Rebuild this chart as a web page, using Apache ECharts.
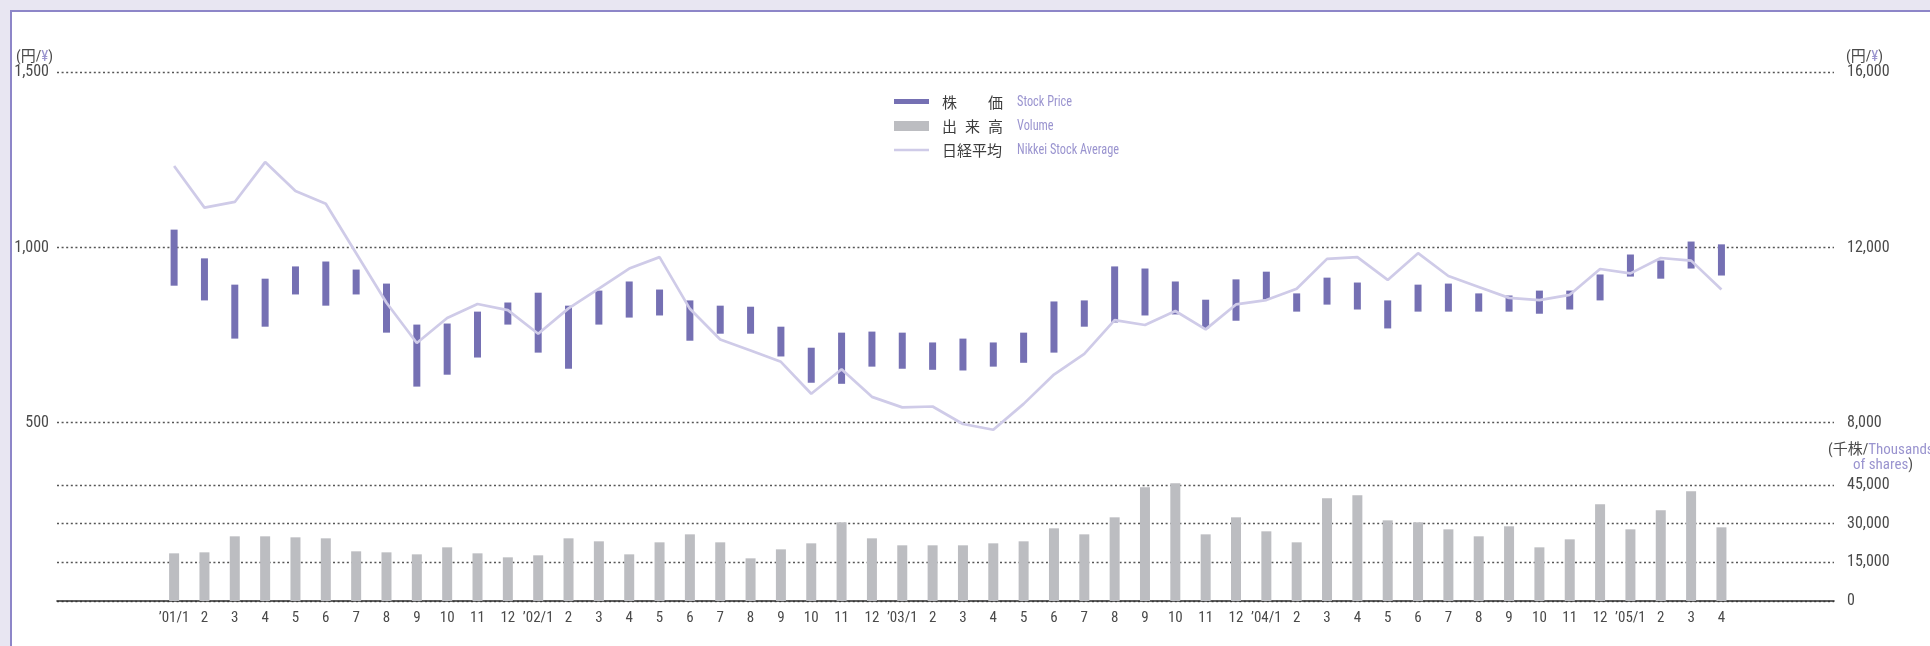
<!DOCTYPE html>
<html>
<head>
<meta charset="utf-8">
<script src="https://cdn.jsdelivr.net/npm/echarts@6/dist/echarts.min.js"></script>
<style>
  html, body { margin: 0; padding: 0; background: #e8e6f2; }
  #chart { width: 1930px; height: 646px; }
</style>
</head>
<body>
<div id="chart"></div>
<script>
// Month labels along the bottom axis (Jan 2001 – Apr 2005)
const monthLabels = [
  '’01/1','2','3','4','5','6','7','8','9','10','11','12',
  '’02/1','2','3','4','5','6','7','8','9','10','11','12',
  '’03/1','2','3','4','5','6','7','8','9','10','11','12',
  '’04/1','2','3','4','5','6','7','8','9','10','11','12',
  '’05/1','2','3','4'
];

// Monthly high / low of the stock price (yen)
const priceHigh = [
  1051, 969, 894, 911, 946, 960, 937, 897, 780, 783, 817, 843,
  871, 834, 877, 903, 880, 849, 834, 831, 774, 714, 757, 760,
  757, 729, 740, 729, 757, 846, 849, 946, 940, 903, 851, 909,
  931, 869, 914, 900, 849, 894, 897, 869, 863, 877, 877, 923,
  980, 963, 1017, 1009
];
const priceLow = [
  891, 849, 740, 774, 866, 834, 866, 757, 603, 637, 686, 780,
  700, 654, 780, 800, 806, 734, 754, 754, 689, 614, 611, 660,
  654, 651, 649, 660, 671, 700, 774, 786, 806, 809, 769, 791,
  851, 817, 837, 823, 769, 817, 817, 817, 817, 811, 823, 849,
  917, 911, 940, 920
];

// Nikkei Stock Average, month end (yen)
const nikkeiAvg = [
  13860, 12910, 13040, 13950, 13290, 13000, 11870, 10740, 9820, 10390, 10710, 10570,
  10030, 10610, 11060, 11520, 11780, 10600, 9900, 9650, 9390, 8660, 9220, 8590,
  8350, 8370, 7970, 7840, 8430, 9100, 9570, 10340, 10230, 10550, 10130, 10700,
  10800, 11060, 11740, 11780, 11260, 11870, 11350, 11100, 10850, 10800, 10920, 11510,
  11410, 11760, 11700, 11040
];

// Monthly trading volume (thousands of shares)
const volume = [
  18490, 18880, 25090, 25090, 24700, 24310, 19270, 18880, 18100, 20820, 18490, 16940,
  17720, 24310, 23150, 18100, 22760, 25860, 22760, 16550, 20040, 22370, 30520, 24310,
  21600, 21600, 21600, 22370, 23150, 28190, 25860, 32460, 44100, 45650, 25860, 32460,
  27030, 22760, 39830, 40990, 31290, 30520, 27800, 25090, 28970, 20820, 23920, 37500,
  27800, 35170, 42540, 28580
];

// Axis tick values
const priceTicks = { min: 500, max: 1500, step: 500 };
const nikkeiTicks = { min: 8000, max: 16000, step: 4000 };
const volumeTicks = { min: 0, max: 45000, step: 15000 };

const COLOR_PRICE = '#7570b3';
const COLOR_VOLUME = '#bcbdc1';
const COLOR_NIKKEI = '#cfcbe8';
const COLOR_TEXT = '#4a4a4a';
const COLOR_EN = '#9a94cf';
const NARROW = '"Liberation Sans Narrow", "Roboto Condensed", "DejaVu Sans Condensed", "Arial Narrow", "Noto Sans CJK JP", sans-serif';
const CJK = '"Noto Sans CJK JP", sans-serif';

const fmt = v => String(v).replace(/\B(?=(\d{3})+(?!\d))/g, ',');
const idx = monthLabels.map((_, i) => i);

// Shared horizontal extent: index positions with margin on both sides
const X_MIN = -3.86, X_MAX = 54.71;
const GRID_LEFT = 57, GRID_RIGHT = 96;

const gridLine = { show: true, lineStyle: { color: '#555', type: [2, 2.6], width: 1.3 } };
const axisLabelBase = { color: COLOR_TEXT, fontFamily: NARROW, fontSize: 16 };

function renderPrice(params, api) {
  const x = api.value(0);
  const top = api.coord([x, api.value(2)]);
  const bottom = api.coord([x, api.value(1)]);
  const w = 7;
  return {
    type: 'rect',
    shape: { x: top[0] - w / 2, y: top[1], width: w, height: bottom[1] - top[1] },
    style: { fill: COLOR_PRICE }
  };
}

function unitText(x, y, parts) {
  return {
    type: 'text', x, y,
    style: {
      text: parts.map(p => `{${p[0]}|${p[1]}}`).join(''),
      verticalAlign: 'middle',
      rich: {
        g: { fill: COLOR_TEXT, fontFamily: NARROW, fontSize: 15 },
        p: { fill: COLOR_EN, fontFamily: NARROW, fontSize: 15 }
      }
    }
  };
}

function legendChar(ch, x, y) {
  return { type: 'text', x, y, style: { text: ch, fill: '#3c3c3c', font: '15px ' + CJK, verticalAlign: 'middle' } };
}
function legendEn(t, x, y) {
  return { type: 'text', x, y, scaleX: 0.88, style: { text: t, fill: COLOR_EN, font: '14px ' + NARROW, verticalAlign: 'middle' } };
}

const chart = echarts.init(document.getElementById('chart'), null, { renderer: 'canvas' });

chart.setOption({
  animation: false,
  backgroundColor: '#e8e6f2',
  grid: [
    { left: GRID_LEFT, right: GRID_RIGHT, top: 72.3, height: 350.4 },
    { left: GRID_LEFT, right: GRID_RIGHT, top: 485, height: 116 }
  ],
  xAxis: [
    { type: 'value', gridIndex: 0, min: X_MIN, max: X_MAX, show: false },
    {
      type: 'value', gridIndex: 1, min: X_MIN, max: X_MAX,
      axisLine: { show: true, lineStyle: { color: '#2e2e2e', width: 1.6 } },
      axisTick: { show: false },
      splitLine: { show: false },
      axisLabel: {
        customValues: idx,
        formatter: v => monthLabels[Math.round(v)],
        color: COLOR_TEXT, fontFamily: NARROW, fontSize: 15, margin: 10
      }
    }
  ],
  yAxis: [
    {
      type: 'value', gridIndex: 0, position: 'left',
      min: priceTicks.min, max: priceTicks.max, interval: priceTicks.step,
      axisLine: { show: false }, axisTick: { show: false },
      axisLabel: Object.assign({ formatter: fmt, margin: 8, padding: [3, 0, 0, 0] }, axisLabelBase),
      splitLine: gridLine
    },
    {
      type: 'value', gridIndex: 0, position: 'right',
      min: nikkeiTicks.min, max: nikkeiTicks.max, interval: nikkeiTicks.step,
      axisLine: { show: false }, axisTick: { show: false },
      axisLabel: Object.assign({ formatter: fmt, margin: 13, padding: [3, 0, 0, 0] }, axisLabelBase),
      splitLine: { show: false }
    },
    {
      type: 'value', gridIndex: 1, position: 'right',
      min: volumeTicks.min, max: volumeTicks.max, interval: volumeTicks.step,
      axisLine: { show: false }, axisTick: { show: false },
      axisLabel: Object.assign({ formatter: fmt, margin: 13, padding: [2, 0, 0, 0] }, axisLabelBase),
      splitLine: gridLine
    }
  ],
  series: [
    {
      name: '出来高', type: 'bar', xAxisIndex: 1, yAxisIndex: 2,
      data: volume.map((v, i) => [i, v]),
      barWidth: 10, clip: false,
      itemStyle: { color: COLOR_VOLUME },
      z: 2
    },
    {
      name: '株価', type: 'custom', xAxisIndex: 0, yAxisIndex: 0,
      data: priceHigh.map((h, i) => [i, priceLow[i], h]),
      encode: { x: 0, y: [1, 2] },
      renderItem: renderPrice,
      clip: false,
      z: 3
    },
    {
      name: '日経平均', type: 'line', xAxisIndex: 0, yAxisIndex: 1,
      data: nikkeiAvg.map((v, i) => [i, v]),
      symbol: 'none', clip: false,
      lineStyle: { color: COLOR_NIKKEI, width: 2.7 },
      z: 4
    }
  ],
  graphic: [
    {
      type: 'rect', z: -10, silent: true,
      shape: { x: 11, y: 11, width: 1940, height: 660 },
      style: { fill: '#ffffff', stroke: '#8d86c8', lineWidth: 2 }
    },
    // unit captions
    unitText(16, 57, [['g', '(円/'], ['p', '¥'], ['g', ')']]),
    unitText(1846, 57, [['g', '(円/'], ['p', '¥'], ['g', ')']]),
    unitText(1828, 450, [['g', '(千株/'], ['p', 'Thousands']]),
    unitText(1853, 465, [['p', 'of shares'], ['g', ')']]),
    // legend
    { type: 'rect', shape: { x: 894, y: 99, width: 35, height: 5 }, style: { fill: COLOR_PRICE } },
    { type: 'rect', shape: { x: 894, y: 121, width: 35, height: 10 }, style: { fill: COLOR_VOLUME } },
    { type: 'line', shape: { x1: 894, y1: 150, x2: 929, y2: 150 }, style: { stroke: COLOR_NIKKEI, lineWidth: 2.7 } },
    legendChar('株', 942, 102), legendChar('価', 988, 102),
    legendChar('出', 942, 126), legendChar('来', 965, 126), legendChar('高', 988, 126),
    legendChar('日経平均', 942, 150),
    legendEn('Stock Price', 1017, 102),
    legendEn('Volume', 1017, 126),
    legendEn('Nikkei Stock Average', 1017, 150)
  ]
});
</script>
</body>
</html>
